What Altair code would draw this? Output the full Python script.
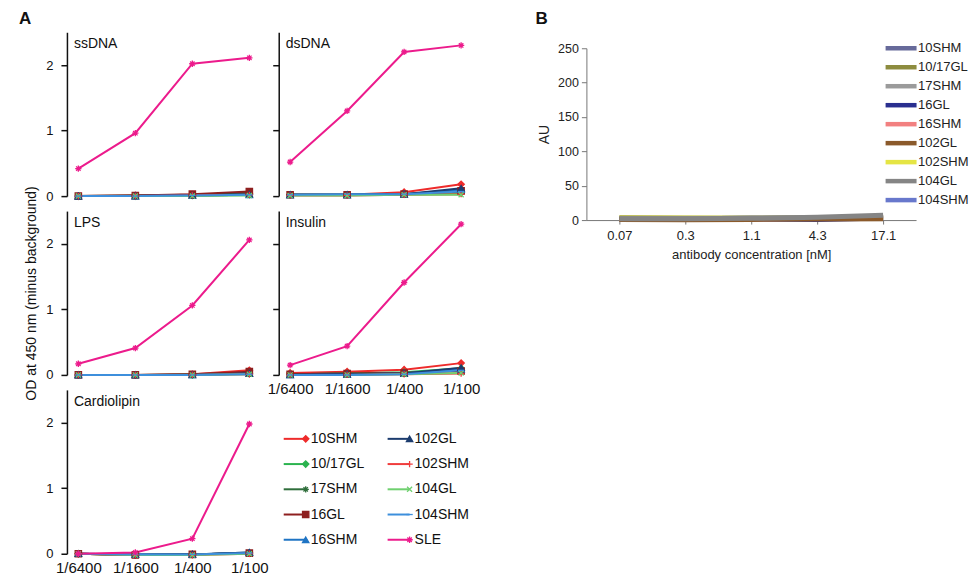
import altair as alt
import pandas as pd

FONT = "Liberation Sans"

# ---------------- Panel A data ----------------
dilutions = ["1/6400", "1/1600", "1/400", "1/100"]
series_a = ["10SHM", "10/17GL", "17SHM", "16GL", "16SHM",
            "102GL", "102SHM", "104GL", "104SHM", "SLE"]
colors_a = ["#ee2b2b", "#2bb34f", "#2f6e3b", "#8e1f1f", "#1f74c4",
            "#1c3c6e", "#f03c3c", "#6fd06f", "#3d8fdc", "#ec1b8c"]
ASTER = "M-1,0H1M0,-1V1M-0.7,-0.7L0.7,0.7M-0.7,0.7L0.7,-0.7"
PLUS = "M-1,0H1M0,-1V1"
XMARK = "M-0.8,-0.8L0.8,0.8M-0.8,0.8L0.8,-0.8"
DASH = "M-1,0H1"
shapes_a = ["diamond", "diamond", ASTER, "square", "triangle-up",
            "triangle-up", PLUS, XMARK, DASH, ASTER]
sizes_a = [40, 40, 70, 36, 40, 40, 60, 50, 60, 80]

ssDNA = [
    [0.00, 0.01, 0.02, 0.04],
    [0.00, 0.00, 0.01, 0.02],
    [0.00, 0.01, 0.02, 0.05],
    [0.00, 0.01, 0.03, 0.07],
    [0.00, 0.00, 0.01, 0.02],
    [0.00, 0.00, 0.01, 0.03],
    [0.00, 0.00, 0.01, 0.02],
    [0.00, 0.00, 0.00, 0.01],
    [0.00, 0.00, 0.01, 0.02],
    [0.42, 0.96, 2.02, 2.11],
]
dsDNA = [
    [0.02, 0.02, 0.06, 0.18],
    [0.02, 0.02, 0.03, 0.05],
    [0.02, 0.02, 0.03, 0.07],
    [0.02, 0.02, 0.03, 0.08],
    [0.02, 0.02, 0.03, 0.10],
    [0.02, 0.02, 0.03, 0.12],
    [0.01, 0.01, 0.02, 0.03],
    [0.01, 0.01, 0.02, 0.02],
    [0.02, 0.03, 0.03, 0.07],
    [0.52, 1.30, 2.20, 2.30],
]
LPS = [
    [0.00, 0.00, 0.01, 0.07],
    [0.00, 0.00, 0.00, 0.02],
    [0.00, 0.00, 0.01, 0.03],
    [0.00, 0.00, 0.01, 0.05],
    [0.00, 0.00, 0.00, 0.02],
    [0.00, 0.00, 0.00, 0.02],
    [0.00, 0.00, 0.00, 0.01],
    [0.00, 0.00, 0.00, 0.01],
    [0.00, 0.00, 0.00, 0.01],
    [0.17, 0.41, 1.06, 2.06],
]
Insulin = [
    [0.03, 0.05, 0.08, 0.18],
    [0.01, 0.02, 0.04, 0.10],
    [0.01, 0.02, 0.03, 0.08],
    [0.01, 0.02, 0.03, 0.06],
    [0.00, 0.01, 0.02, 0.09],
    [0.00, 0.01, 0.02, 0.11],
    [0.00, 0.00, 0.01, 0.02],
    [0.00, 0.00, 0.01, 0.03],
    [0.00, 0.00, 0.01, 0.07],
    [0.15, 0.44, 1.41, 2.30],
]
Cardiolipin = [
    [0.00, -0.02, -0.01, 0.01],
    [0.00, -0.02, -0.01, 0.01],
    [0.00, -0.02, -0.01, 0.01],
    [0.00, -0.02, -0.01, 0.01],
    [0.00, -0.01, -0.01, 0.02],
    [0.00, -0.01, -0.01, 0.02],
    [0.00, -0.02, -0.02, 0.00],
    [0.00, -0.02, -0.02, 0.00],
    [0.00, -0.01, -0.01, 0.01],
    [0.00, 0.02, 0.23, 1.98],
]

# ---------------- Panel B data ----------------
conc_b = ["0.07", "0.3", "1.1", "4.3", "17.1"]
series_b = ["10SHM", "10/17GL", "17SHM", "16GL", "16SHM",
            "102GL", "102SHM", "104GL", "104SHM"]
colors_b = ["#676a9a", "#8d8c3f", "#9b9b9b", "#2a2f8f", "#f28080",
            "#8b5a2b", "#e5e544", "#858585", "#6878cc"]
au_b = [
    [2.0, 2.0, 2.5, 3.0, 4.0],
    [3.0, 2.5, 2.5, 3.0, 4.0],
    [2.0, 2.0, 2.5, 3.5, 5.0],
    [1.5, 1.5, 1.5, 1.0, 3.0],
    [1.5, 1.5, 2.0, 2.5, 3.0],
    [1.0, 0.5, 1.0, 1.5, 2.0],
    [3.5, 3.0, 2.5, 3.0, 4.0],
    [2.0, 2.0, 2.5, 4.0, 7.0],
    [2.0, 2.0, 2.5, 3.0, 4.0],
]
# drawing order of B lines (last one on top)
draw_order_b = ["104SHM", "16GL", "10SHM", "16SHM", "102SHM", "10/17GL",
                "17SHM", "102GL", "104GL"]

# ---------------- scales ----------------
color_a = alt.Scale(domain=series_a, range=colors_a)
shape_a = alt.Scale(domain=series_a, range=shapes_a)
size_a = alt.Scale(domain=series_a, range=sizes_a)
color_b = alt.Scale(domain=series_b, range=colors_b)

PW, PH = 194, 164
GAP = 18


def long_a(vals):
    rows = []
    for s, v in zip(series_a, vals):
        for i, (d, y) in enumerate(zip(dilutions, v)):
            rows.append({"series": s, "dilution": d, "di": i, "od": y})
    return pd.DataFrame(rows)


def marker_enc():
    return dict(
        shape=alt.Shape("series:N", scale=shape_a, legend=None),
        size=alt.Size("series:N", scale=size_a, legend=None),
        fill=alt.Fill("series:N", scale=color_a, legend=None),
        stroke=alt.Stroke("series:N", scale=color_a, legend=None),
    )


def panel(name, vals, show_x, show_ylab, ytitle=None, title=None):
    df = long_a(vals)
    if show_x:
        xaxis = alt.Axis(domain=False, ticks=False, labelAngle=0, labelFontSize=15,
                         labelPadding=7, labelColor="#111", title=None)
    else:
        xaxis = None
    yaxis_kw = dict(values=[0, 1, 2], labels=show_ylab, labelFontSize=13,
                    labelPadding=8, tickSize=6, tickWidth=1.5, domainWidth=1.5,
                    domainColor="#111", tickColor="#111", labelColor="#111",
                    grid=False)
    if ytitle:
        yaxis = alt.Axis(title=ytitle, titleFontSize=14, titleFontWeight="normal",
                         titlePadding=7, titleColor="#111", **yaxis_kw)
    else:
        yaxis = alt.Axis(title=None, **yaxis_kw)
    x = alt.X("dilution:N", sort=dilutions,
              scale=alt.Scale(type="point", padding=0.2), axis=xaxis)
    y = alt.Y("od:Q", scale=alt.Scale(domain=[0, 2.5]), axis=yaxis)
    base = alt.Chart(df)
    lines = base.mark_line(strokeWidth=2).encode(
        x=x, y=y,
        color=alt.Color("series:N", scale=color_a, legend=None),
        order=alt.Order("di:Q"),
    )
    pts = base.mark_point(filled=True, strokeWidth=1.3, opacity=1).encode(
        x=x, y=y, **marker_enc())
    label = alt.Chart(pd.DataFrame({"t": [name]})).mark_text(
        align="left", baseline="middle", fontSize=14, color="#111"
    ).encode(text="t:N", x=alt.value(7), y=alt.value(12))
    props = dict(width=PW, height=PH)
    if title:
        props["title"] = title
    return alt.layer(lines, pts, label).properties(**props)


title_a = alt.Title("A", anchor="start", frame="group", dx=-48, fontSize=17,
                    fontWeight="bold", offset=4, color="#111")
p_ss = panel("ssDNA", ssDNA, False, True, title=title_a)
p_ds = panel("dsDNA", dsDNA, False, False)
p_lps = panel("LPS", LPS, False, True, "OD at 450 nm (minus background)")
p_ins = panel("Insulin", Insulin, True, False)
p_card = panel("Cardiolipin", Cardiolipin, True, True)

# legend for A
leg_a = pd.DataFrame({
    "series": series_a,
    "lcol": [i // 5 for i in range(len(series_a))],
    "lrow": [i % 5 for i in range(len(series_a))],
})
lx = alt.X("lcol:Q", scale=alt.Scale(domain=[0, 1], range=[16, 120]), axis=None)
ly = alt.Y("lrow:Q", scale=alt.Scale(domain=[0, 4], range=[49, 150]), axis=None)
lbase = alt.Chart(leg_a)
leg_seg = lbase.mark_point(shape=DASH, size=484, strokeWidth=2, filled=False, opacity=1).encode(
    x=lx, y=ly, stroke=alt.Stroke("series:N", scale=color_a, legend=None))
leg_mark = lbase.mark_point(filled=True, strokeWidth=1.3, xOffset=11, opacity=1).encode(
    x=lx, y=ly, **marker_enc())
leg_txt = lbase.mark_text(align="left", baseline="middle", dx=16, fontSize=14, color="#111").encode(
    x=lx, y=ly, text="series:N")
legend_a = alt.layer(leg_seg, leg_mark, leg_txt).properties(width=PW, height=PH)

# ---------------- Panel B chart ----------------
rows_b = []
for s in draw_order_b:
    v = au_b[series_b.index(s)]
    for i, (c, y) in enumerate(zip(conc_b, v)):
        rows_b.append({"antibody": s, "conc": c, "ci": i, "au": y})
df_b = pd.DataFrame(rows_b)

BOFF = 96          # gap between A's right edge and B's y axis (beyond column spacing)
BPW = 330          # B plot width
BH_AXIS = 188      # y position of B's zero line, relative to row top
BW = BOFF + BPW
b_lines = alt.Chart(df_b).mark_line(strokeWidth=5).encode(
    x=alt.X("conc:N", sort=conc_b,
            scale=alt.Scale(type="point", padding=0.5, range=[BOFF, BW]),
            axis=alt.Axis(title="antibody concentration [nM]", labelAngle=0, offset=BH_AXIS - PH,
                          labelFontSize=13, labelPadding=5, tickSize=4,
                          domainColor="#777", tickColor="#777", labelColor="#222",
                          titleFontSize=13, titleFontWeight="normal", titleColor="#222",
                          titlePadding=6)),
    y=alt.Y("au:Q", scale=alt.Scale(domain=[0, 250], range=[BH_AXIS, 16]),
            axis=alt.Axis(values=[0, 50, 100, 150, 200, 250], title="AU", offset=-BOFF,
                          labelFontSize=12.5, labelPadding=3, tickSize=5,
                          domainColor="#777", tickColor="#777", labelColor="#222",
                          titleFontSize=14, titleFontWeight="normal", titleColor="#222",
                          titlePadding=6, grid=False)),
    color=alt.Color("antibody:N", scale=color_b, legend=None),
    order=alt.Order("ci:Q"),
)
leg_b = pd.DataFrame({"antibody": series_b, "lrow": list(range(len(series_b)))})
by = alt.Y("lrow:Q", scale=alt.Scale(domain=[0, 8], range=[16, 168]), axis=None)
b_leg_seg = alt.Chart(leg_b).mark_point(shape=DASH, size=961, strokeWidth=4.5, filled=False, opacity=1).encode(
    x=alt.value(BOFF + 315), y=by, stroke=alt.Stroke("antibody:N", scale=color_b, legend=None))
b_leg_txt = alt.Chart(leg_b).mark_text(align="left", baseline="middle", fontSize=13, color="#222").encode(
    x=alt.value(BOFF + 332), y=by, text="antibody:N")
title_b = alt.Title("B", anchor="start", frame="group", dx=BOFF - 51, fontSize=17,
                    fontWeight="bold", offset=4, color="#111")
chart_b = alt.layer(b_lines, b_leg_seg, b_leg_txt).resolve_scale(y="independent").properties(
    width=BW, height=PH, title=title_b)

spacer = alt.Chart(pd.DataFrame({"a": [0]})).mark_point(opacity=0).encode(
    x=alt.value(0), y=alt.value(0)).properties(width=10, height=10)

chart = alt.concat(
    p_ss, p_ds, chart_b,
    p_lps, p_ins, spacer,
    p_card, legend_a,
    columns=3, spacing={"row": 15, "column": GAP}, bounds="flush",
).resolve_scale(
    color="independent", stroke="independent", fill="independent",
    shape="independent", size="independent"
).properties(
    padding={"left": 11, "top": 2, "right": 2, "bottom": 5}
).configure_view(strokeWidth=0).configure_axis(
    labelFont=FONT, titleFont=FONT
).configure_text(font=FONT).configure_title(font=FONT)

chart.save("out.html", embed_options={"renderer": "svg", "actions": False})
